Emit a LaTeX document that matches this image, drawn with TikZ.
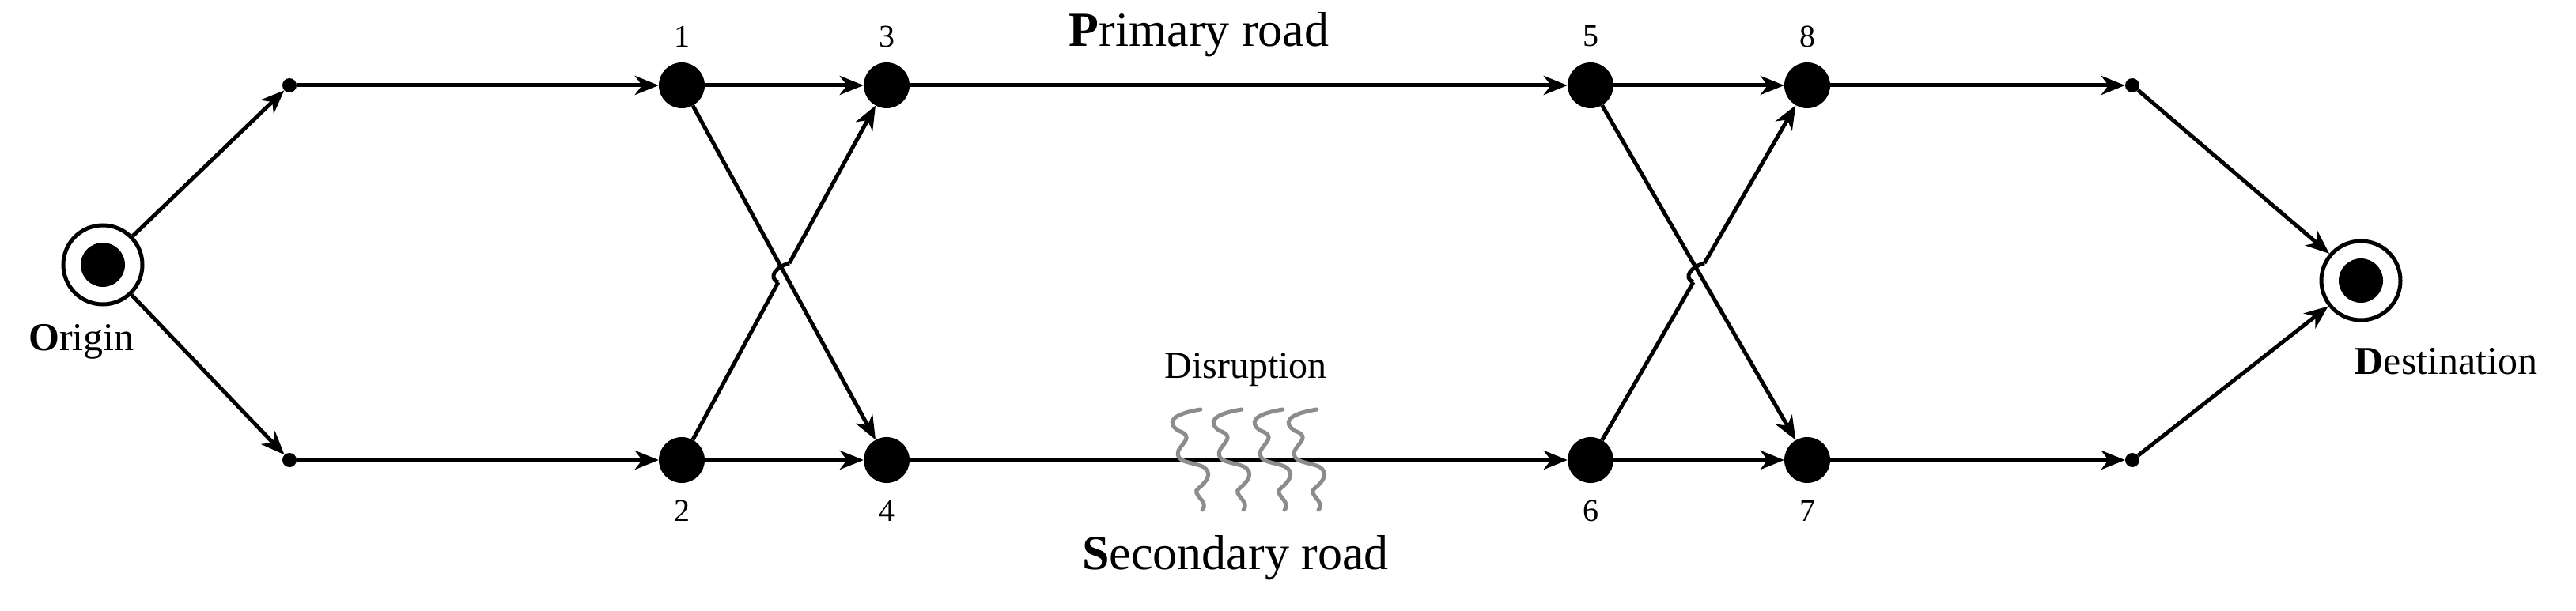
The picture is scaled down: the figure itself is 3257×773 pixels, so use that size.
\documentclass[tikz,border=0pt]{standalone}
\usepackage{fontspec}
\setmainfont{Liberation Serif}
\usetikzlibrary{arrows.meta}
\begin{document}
\begin{tikzpicture}[x=1pt,y=-1pt,
  road/.style={line width=5pt,black},
  arr/.style={road,-{Stealth[length=30pt,width=24pt,inset=9pt]}},
  big/.style={circle,fill=black,minimum size=58pt,inner sep=0pt},
  small/.style={circle,fill=black,minimum size=18pt,inner sep=0pt},
  term/.style={circle,draw=black,line width=5pt,minimum size=100pt,inner sep=0pt},
  num/.style={font=\fontsize{40}{40}\selectfont},
  lab/.style={font=\fontsize{50}{50}\selectfont},
  squig/.style={line width=5pt,gray!90,line cap=round}]
\useasboundingbox (0,0) rectangle (3257,773);
% terminals
\node[term] (O) at (130,335) {};
\fill (O.center) circle (28pt);
\node[term] (D) at (2985,355) {};
\fill (D.center) circle (28pt);
% small dots
\node[small] (a) at (366,108) {};
\node[small] (b) at (366,582) {};
\node[small] (c) at (2696,108) {};
\node[small] (d) at (2696,582) {};
% main nodes
\node[big] (n1) at (862,108) {};
\node[big] (n2) at (862,582) {};
\node[big] (n3) at (1121,108) {};
\node[big] (n4) at (1121,582) {};
\node[big] (n5) at (2011,108) {};
\node[big] (n6) at (2011,582) {};
\node[big] (n8) at (2285,108) {};
\node[big] (n7) at (2285,582) {};
% numbers
\node[num] (l1) at (862,46) {1};
\node[num] (l3) at (1121,46) {3};
\node[num] (l5) at (2011,46) {5};
\node[num] (l8) at (2285,46) {8};
\node[num] (l2) at (862,646) {2};
\node[num] (l4) at (1121,646) {4};
\node[num] (l6) at (2011,646) {6};
\node[num] (l7) at (2285,646) {7};
% labels
\node[font=\fontsize{62}{62}\selectfont] (pr) at (1516,44) {\textbf{P}rimary road};
\node[font=\fontsize{62}{62}\selectfont] (sr) at (1562,706) {\textbf{S}econdary road};
\node[font=\fontsize{48}{48}\selectfont] (dis) at (1575,468) {Disruption};
\node[lab] (ol) at (103,432) {\textbf{O}rigin};
\node[lab] (dl) at (3093,457) {\textbf{D}estination};
% edges
\draw[arr] (O) -- (a);
\draw[arr] (O) -- (b);
\draw[arr] (a) -- (n1);
\draw[arr] (b) -- (n2);
\draw[arr] (n1) -- (n3);
\draw[arr] (n2) -- (n4);
\draw[arr] (n1) -- (n4);
\coordinate (h1) at (984,357);
\coordinate (h2) at (998,333);
\draw[road] (n2) -- (h1);
\draw[road] (h1) .. controls +(-14,-6) and +(-16,4) .. (h2);
\draw[arr] (h2) -- (n3);
\draw[arr] (n3) -- (n5);
\draw[arr] (n4) -- (n6);
\draw[arr] (n5) -- (n8);
\draw[arr] (n6) -- (n7);
\draw[arr] (n5) -- (n7);
\coordinate (h3) at (2141,357);
\coordinate (h4) at (2155,333);
\draw[road] (n6) -- (h3);
\draw[road] (h3) .. controls +(-14,-6) and +(-16,4) .. (h4);
\draw[arr] (h4) -- (n8);
\draw[arr] (n8) -- (c);
\draw[arr] (n7) -- (d);
\draw[arr] (c) -- (D);
\draw[arr] (d) -- (D);
% disruption squiggles
\foreach \x in {1485,1537,1589,1632}{
  \draw[squig] (\x+33,518) .. controls (\x-5,524) and (\x-10,535) .. (\x+5,545)
     .. controls (\x+25,552) and (\x+10,560) .. (\x+5,570)
     .. controls (\x,585) and (\x+20,584) .. (\x+35,590)
     .. controls (\x+50,598) and (\x+40,610) .. (\x+30,618)
     .. controls (\x+20,625) and (\x+45,635) .. (\x+35,645);
}
\end{tikzpicture}
\end{document}
